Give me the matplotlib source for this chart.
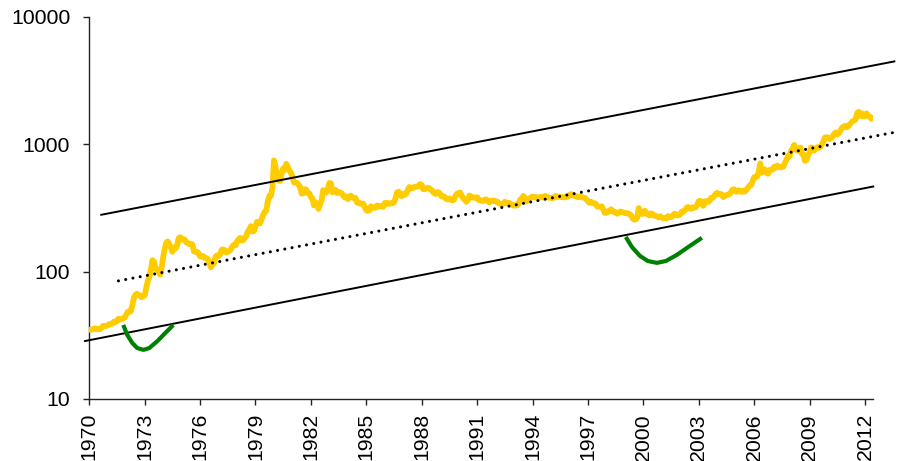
import numpy as np
import matplotlib
matplotlib.use('Agg')
from matplotlib import pyplot as plt
from matplotlib.ticker import FixedLocator, NullLocator, FixedFormatter

plt.rcParams['font.family'] = ['Liberation Sans', 'DejaVu Sans']

# monthly gold price, USD/oz, Jan 1970 .. Jun 2012
gold_start = 1970
gold = [
    34.9, 35.0, 35.1, 35.6, 35.9, 35.4, 35.3, 35.4, 36.2, 37.5, 37.4, 37.4,         # 1970
    37.9, 38.7, 38.9, 39.0, 40.5, 40.1, 41.0, 42.7, 42.0, 42.5, 42.9, 43.5,         # 1971
    45.8, 48.3, 48.3, 49.0, 54.6, 62.1, 65.7, 67.0, 65.5, 64.9, 62.9, 63.9,         # 1972
    65.1, 74.2, 84.4, 90.5, 102.0, 122.5, 120.0, 106.8, 103.0, 100.1, 94.8, 106.7,  # 1973
    129.2, 150.2, 168.4, 172.2, 163.3, 154.1, 143.0, 154.6, 151.8, 158.8, 181.7, 186.0,  # 1974
    178.0, 179.6, 178.2, 169.9, 167.4, 164.2, 165.2, 163.1, 144.1, 142.8, 142.8, 139.3,  # 1975
    131.6, 130.9, 132.6, 128.2, 127.5, 125.6, 118.2, 108.0, 114.3, 116.0, 130.3, 133.8,  # 1976
    132.3, 136.3, 148.2, 149.2, 146.7, 141.1, 143.4, 144.9, 149.4, 158.2, 162.3, 160.5,  # 1977
    173.2, 178.2, 183.7, 175.3, 176.3, 183.9, 188.7, 206.3, 212.9, 227.3, 206.1, 207.8,  # 1978
    227.3, 245.7, 242.1, 239.2, 257.3, 279.0, 294.7, 300.8, 355.1, 391.7, 392.5, 455.1,  # 1979
    745.0, 665.3, 553.6, 517.4, 513.8, 600.7, 644.3, 626.5, 700.0, 661.1, 623.5, 594.9,  # 1980
    557.6, 500.8, 499.8, 495.8, 479.7, 460.8, 409.3, 410.0, 443.2, 437.8, 412.9, 410.1,  # 1981
    384.2, 374.2, 330.4, 350.5, 333.9, 310.0, 338.7, 364.2, 435.2, 422.5, 415.6, 444.5,  # 1982
    495.0, 491.8, 419.5, 432.8, 438.4, 413.0, 422.6, 416.2, 411.9, 394.0, 381.8, 388.7,  # 1983
    370.4, 385.7, 394.6, 381.9, 377.3, 378.2, 347.3, 348.1, 341.1, 340.2, 341.2, 320.2,  # 1984
    303.0, 299.1, 304.0, 324.9, 316.6, 316.7, 317.6, 330.0, 323.1, 326.0, 325.3, 322.4,  # 1985
    345.2, 338.9, 345.6, 340.4, 342.6, 342.8, 348.6, 376.6, 417.9, 423.5, 398.3, 391.1,  # 1986
    408.2, 401.0, 408.9, 438.4, 460.3, 449.6, 450.5, 460.3, 459.8, 465.6, 469.2, 486.3,  # 1987
    477.8, 442.1, 443.6, 451.6, 451.3, 451.1, 437.5, 431.3, 412.9, 406.5, 420.1, 418.9,  # 1988
    404.1, 388.0, 390.2, 384.4, 371.0, 367.6, 375.0, 365.4, 361.7, 366.9, 393.9, 409.4,  # 1989
    410.1, 416.8, 393.0, 374.3, 369.0, 352.2, 362.5, 394.8, 388.8, 380.7, 381.4, 378.2,  # 1990
    383.6, 363.8, 363.3, 358.4, 357.4, 366.7, 367.7, 356.4, 348.7, 358.7, 359.9, 361.5,  # 1991
    354.5, 353.9, 344.3, 338.6, 337.3, 340.8, 353.1, 342.9, 345.4, 344.4, 335.0, 334.8,  # 1992
    329.0, 329.3, 330.1, 342.2, 367.2, 371.9, 392.0, 378.7, 355.3, 364.2, 373.6, 383.3,  # 1993
    386.9, 382.0, 384.0, 377.3, 381.4, 385.6, 385.5, 380.4, 391.6, 389.8, 384.4, 379.3,  # 1994
    378.6, 376.5, 382.1, 391.0, 385.2, 387.6, 386.2, 383.7, 383.1, 383.0, 385.5, 387.4,  # 1995
    400.0, 405.0, 396.4, 392.9, 391.9, 385.3, 383.5, 387.5, 383.1, 381.1, 377.8, 369.2,  # 1996
    354.9, 346.6, 352.9, 344.4, 343.7, 340.8, 324.1, 324.0, 322.8, 324.9, 306.0, 288.7,  # 1997
    289.2, 297.5, 295.9, 308.4, 299.1, 292.3, 292.9, 284.1, 289.0, 296.0, 294.1, 291.4,  # 1998
    287.3, 287.3, 285.9, 282.6, 276.4, 261.3, 256.1, 256.7, 265.0, 315.0, 293.2, 283.1,  # 1999
    284.6, 299.9, 286.4, 280.0, 275.3, 285.7, 281.6, 274.5, 273.7, 270.0, 266.0, 271.5,  # 2000
    265.5, 261.9, 263.0, 260.5, 272.4, 270.2, 267.5, 272.4, 283.4, 283.1, 276.2, 275.9,  # 2001
    281.7, 295.5, 294.1, 302.7, 314.5, 321.2, 313.3, 310.3, 319.2, 316.6, 319.2, 333.4,  # 2002
    356.9, 359.0, 340.6, 328.2, 355.7, 356.4, 351.0, 359.8, 378.9, 378.9, 389.9, 407.6,  # 2003
    414.0, 405.3, 406.7, 403.0, 383.8, 392.4, 398.1, 400.5, 405.3, 420.5, 439.4, 441.8,  # 2004
    424.0, 423.4, 434.2, 428.9, 421.9, 430.7, 424.5, 437.9, 456.0, 469.9, 476.7, 509.8,  # 2005
    549.9, 555.0, 557.1, 610.6, 705.0, 596.2, 633.7, 632.6, 598.2, 585.8, 627.8, 629.8,  # 2006
    631.2, 664.8, 654.9, 679.4, 666.9, 655.5, 665.3, 665.4, 712.7, 754.6, 806.2, 803.2,  # 2007
    889.6, 922.3, 985.0, 909.7, 888.7, 889.5, 939.8, 839.0, 829.9, 740.0, 750.0, 816.1,  # 2008
    858.7, 943.2, 924.3, 890.2, 928.6, 945.7, 934.2, 949.4, 996.6, 1043.2, 1127.0, 1134.7,  # 2009
    1117.9, 1095.4, 1113.3, 1148.7, 1205.4, 1232.9, 1192.9, 1215.8, 1270.9, 1342.0, 1369.9, 1390.6,  # 2010
    1356.4, 1372.7, 1424.0, 1473.8, 1510.4, 1528.7, 1572.8, 1755.8, 1790.0, 1665.2, 1738.9, 1652.2,  # 2011
    1656.1, 1742.6, 1673.8, 1650.1, 1585.5, 1596.7,                                        # 2012
]

# channel lines (start/end year, start/end value)
upper_x = [1970.65, 2013.59]
upper_y = [279, 4457]
lower_x = [1969.77, 2012.45]
lower_y = [28.5, 465]
trend_x = [1971.58, 2013.85]
trend_y = [84.5, 1257]

# green bottom sketches
dip1_x = [1971.84, 1972.06, 1972.33, 1972.60, 1972.93, 1973.25, 1973.69, 1974.12, 1974.55]
dip1_y = [38.1, 31.8, 27.5, 25.1, 24.3, 25.1, 28.5, 33.0, 38.1]
dip2_x = [1999.05, 1999.38, 1999.81, 2000.24, 2000.73, 2001.22, 2001.81, 2002.52, 2003.17]
dip2_y = [187, 156, 133, 121, 117, 121, 135, 159, 184]

year_ticks = list(range(1970, 2013, 3))
value_ticks = [10, 100, 1000, 10000]

months = gold_start + np.arange(len(gold)) / 12.0

fig = plt.figure(figsize=(9.09, 4.61), dpi=100)
ax = fig.add_axes([0.0982, 0.1345, 0.8627, 0.8293])

ax.plot(months, gold, color='#FFCC00', lw=4.2, solid_joinstyle='round', solid_capstyle='round', zorder=3)
ax.plot(upper_x, upper_y, color='black', lw=1.4, clip_on=False, zorder=4)
ax.plot(lower_x, lower_y, color='black', lw=1.4, clip_on=False, zorder=4)
ax.plot(trend_x, trend_y, color='black', lw=2.2, linestyle=(0, (0.01, 2.4)),
        dash_capstyle='round', clip_on=False, zorder=4)
ax.plot(dip1_x, dip1_y, color='#008000', lw=3.0, solid_joinstyle='round', solid_capstyle='butt', zorder=4)
ax.plot(dip2_x, dip2_y, color='#008000', lw=3.0, solid_joinstyle='round', solid_capstyle='butt', zorder=4)

ax.set_yscale('log')
ax.set_ylim(10, 10000)
ax.set_xlim(1970, 2012.46)

ax.yaxis.set_major_locator(FixedLocator(value_ticks))
ax.yaxis.set_major_formatter(FixedFormatter([str(v) for v in value_ticks]))
ax.yaxis.set_minor_locator(NullLocator())
ax.set_xticks(year_ticks)
ax.set_xticklabels([str(y) for y in year_ticks], rotation=90)

ax.spines['top'].set_visible(False)
ax.spines['right'].set_visible(False)
for s in ('left', 'bottom'):
    ax.spines[s].set_color('#222222')
    ax.spines[s].set_linewidth(1.0)

ax.tick_params(axis='y', direction='out', length=4.3, width=1, pad=9.4, labelsize=15.3, colors='#222222', labelcolor='black')
ax.tick_params(axis='x', direction='out', length=4.3, width=1, pad=5.8, labelsize=15.3, colors='#222222', labelcolor='black')

fig.savefig('out.png', dpi=100)
